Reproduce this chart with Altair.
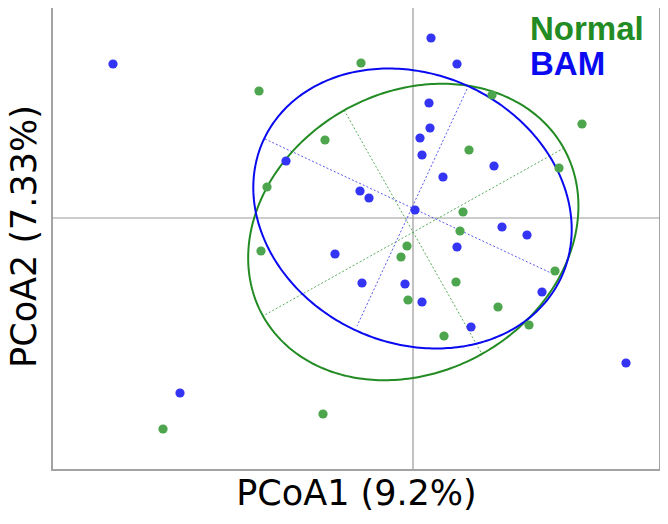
import altair as alt
import pandas as pd

# ---- data ----
blue_x = [-0.300, 0.018, 0.044, 0.016, 0.017, 0.007, 0.009, 0.081, 0.030, -0.127,
          -0.053, -0.044, 0.002, 0.089, 0.114, 0.044, -0.078, -0.051, -0.008, 0.009,
          0.129, 0.058, 0.213, -0.233]
blue_y = [0.154, 0.180, 0.154, 0.115, 0.090, 0.080, 0.063, 0.052, 0.041, 0.057,
          0.027, 0.020, 0.008, -0.009, -0.017, -0.029, -0.036, -0.065, -0.066, -0.084,
          -0.074, -0.109, -0.145, -0.175]
green_x = [-0.052, -0.154, 0.079, 0.169, -0.088, 0.056, 0.146, -0.146, 0.050, 0.047,
           -0.006, -0.012, -0.152, 0.043, 0.142, -0.005, 0.085, 0.031, 0.116, -0.090,
           -0.250]
green_y = [0.155, 0.127, 0.123, 0.094, 0.078, 0.068, 0.050, 0.031, 0.006, -0.013,
           -0.028, -0.039, -0.033, -0.064, -0.053, -0.082, -0.089, -0.118, -0.107, -0.196,
           -0.211]

groups = ["Normal", "BAM"]
group_colors = ["#238b23", "#0a0af0"]
point_colors = ["#4da64d", "#3434f4"]
axis_colors = ["#5aae5a", "#5a5af0"]

# ellipse: centre and two conjugate semi-axis vectors
ell_cx = [0.0003, -0.0005]
ell_cy = [-0.014, 0.0095]
ell_ux = [0.0686, 0.1486]
ell_uy = [-0.122, -0.0692]
ell_vx = [-0.1502, -0.0571]
ell_vy = [-0.0842, -0.1217]

# ellipse axes drawn as dotted segments
seg_group = ["Normal", "Normal", "BAM", "BAM"]
seg_x1 = [-0.069, 0.151, -0.148, 0.054]
seg_y1 = [0.108, 0.070, 0.079, 0.129]
seg_x2 = [0.069, -0.150, 0.138, -0.056]
seg_y2 = [-0.136, -0.098, -0.055, -0.108]

x_title = "PCoA1 (9.2%)"
y_title = "PCoA2 (7.33%)"
x_domain = [-0.361, 0.247]
y_domain = [-0.252, 0.216]

# ---- chart ----
xs = alt.Scale(domain=x_domain, nice=False, zero=False)
ys = alt.Scale(domain=y_domain, nice=False, zero=False)
X = lambda f: alt.X(f, type="quantitative", scale=xs, title=x_title)
Y = lambda f: alt.Y(f, type="quantitative", scale=ys, title=y_title)

pts = pd.concat([
    pd.DataFrame({"x": green_x, "y": green_y, "g": "Normal"}),
    pd.DataFrame({"x": blue_x, "y": blue_y, "g": "BAM"}),
])
segs = pd.DataFrame({"g": seg_group, "x1": seg_x1, "y1": seg_y1, "x2": seg_x2, "y2": seg_y2})

cross_v = alt.Chart(pd.DataFrame({"v": [0.0]})).mark_rule(color="#9a9a9a", strokeWidth=1.2).encode(x=X("v"))
cross_h = alt.Chart(pd.DataFrame({"v": [0.0]})).mark_rule(color="#9a9a9a", strokeWidth=1.2).encode(y=Y("v"))

seg_layer = alt.Chart(segs).mark_rule(strokeWidth=1, strokeDash=[2, 2]).encode(
    x=X("x1"), y=Y("y1"), x2="x2", y2="y2",
    color=alt.Color("g:N", scale=alt.Scale(domain=groups, range=axis_colors), legend=None),
)

ell_layers = []
for i, g in enumerate(groups):
    ell = alt.Chart(alt.sequence(0, 6.33, 0.02, as_="t")).transform_calculate(
        ex=f"{ell_cx[i]} + {ell_ux[i]}*cos(datum.t) + {ell_vx[i]}*sin(datum.t)",
        ey=f"{ell_cy[i]} + {ell_uy[i]}*cos(datum.t) + {ell_vy[i]}*sin(datum.t)",
    ).mark_line(color=group_colors[i], strokeWidth=2).encode(
        x=X("ex"), y=Y("ey"), order=alt.Order("t:Q")
    )
    ell_layers.append(ell)

pt_layer = alt.Chart(pts).mark_circle(size=85, opacity=1).encode(
    x=X("x"), y=Y("y"),
    color=alt.Color("g:N", scale=alt.Scale(domain=groups, range=point_colors), legend=None),
)

legend_y = [38, 73]
legend_layers = []
for i, g in enumerate(groups):
    legend_layers.append(
        alt.Chart(pd.DataFrame({"g": [g]})).mark_text(
            font="Liberation Sans", fontWeight="bold", fontSize=33, align="left",
            baseline="alphabetic", color=group_colors[i]
        ).encode(x=alt.value(478), y=alt.value(legend_y[i]), text="g:N")
    )

chart = alt.layer(cross_v, cross_h, seg_layer, *ell_layers, pt_layer, *legend_layers).resolve_scale(
    color="independent"
).properties(
    width=608, height=468,
    autosize=alt.AutoSizeParams(type="none"),
    padding={"left": 44, "top": -6, "right": 0, "bottom": 44},
).configure_view(
    stroke="#a3a3a3", strokeWidth=2
).configure_axis(
    labels=False, ticks=False, domain=False, grid=False,
    titleFont="DejaVu Sans", titleFontSize=35, titleFontWeight="normal", titleColor="#000000",
).configure_axisX(
    titlePadding=6
).configure_axisY(
    titlePadding=10
)

chart.save("out.html", embed_options={"renderer": "svg", "actions": False})
